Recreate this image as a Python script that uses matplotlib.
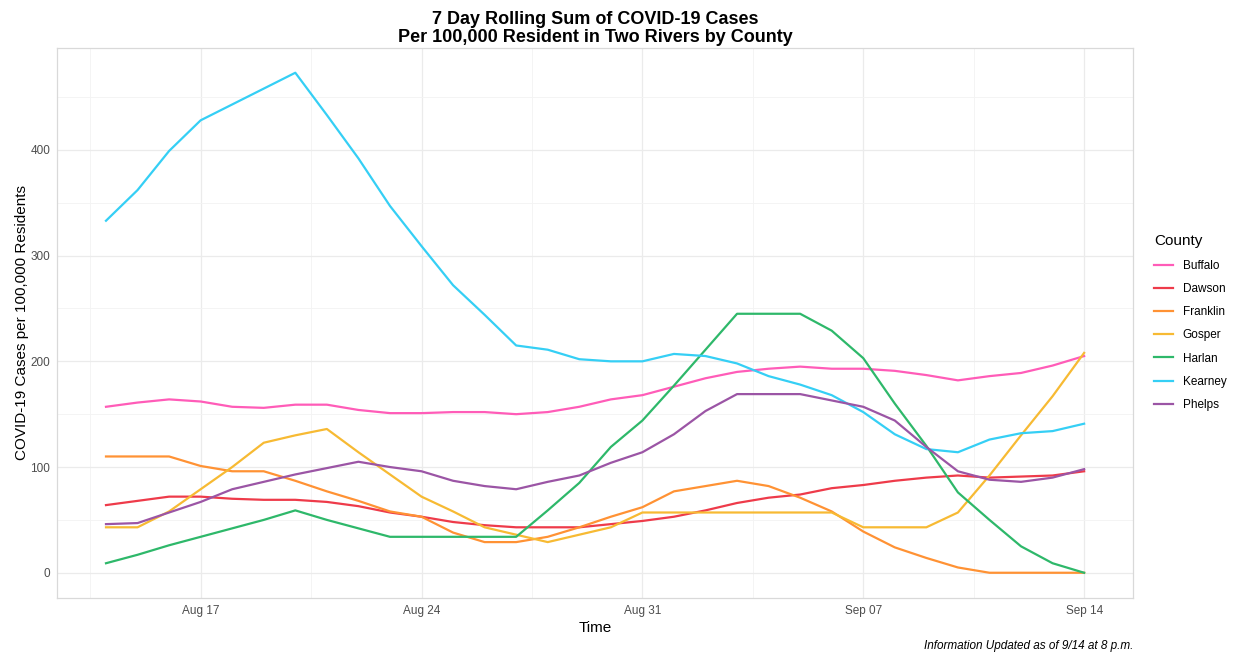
import numpy as np
import pandas as pd
import matplotlib.pyplot as plt
import matplotlib.dates as mdates

plt.rcParams['font.family'] = ['Liberation Sans', 'DejaVu Sans']

# daily dates, Aug 14 .. Sep 14
dates = pd.date_range('2020-08-14', '2020-09-14', freq='D')

counties = ['Buffalo', 'Dawson', 'Franklin', 'Gosper', 'Harlan', 'Kearney', 'Phelps']

buffalo = [157, 161, 164, 162, 157, 156, 159, 159, 154, 151, 151, 152, 152, 150, 152, 157,
           164, 168, 176, 184, 190, 193, 195, 193, 193, 191, 187, 182, 186, 189, 196, 205]
dawson = [64, 68, 72, 72, 70, 69, 69, 67, 63, 57, 53, 48, 45, 43, 43, 43,
          46, 49, 53, 59, 66, 71, 74, 80, 83, 87, 90, 92, 90, 91, 92, 96]
franklin = [110, 110, 110, 101, 96, 96, 87, 77, 68, 58, 53, 38, 29, 29, 34, 43,
            53, 62, 77, 82, 87, 82, 71, 58, 39, 24, 14, 5, 0, 0, 0, 0]
gosper = [43, 43, 58, 79, 100, 123, 130, 136, 114, 93, 72, 58, 43, 36, 29, 36,
          43, 57, 57, 57, 57, 57, 57, 57, 43, 43, 43, 57, 92, 130, 167, 208]
harlan = [9, 17, 26, 34, 42, 50, 59, 50, 42, 34, 34, 34, 34, 34, 59, 85,
          119, 144, 177, 211, 245, 245, 245, 229, 203, 160, 120, 76, 50, 25, 9, 0]
kearney = [333, 362, 399, 428, 443, 458, 473, 433, 392, 347, 309, 272, 244, 215, 211, 202,
           200, 200, 207, 205, 198, 186, 178, 168, 152, 131, 117, 114, 126, 132, 134, 141]
phelps = [46, 47, 57, 67, 79, 86, 93, 99, 105, 100, 96, 87, 82, 79, 86, 92,
          104, 114, 131, 153, 169, 169, 169, 163, 157, 144, 119, 96, 88, 86, 90, 98]

series = [buffalo, dawson, franklin, gosper, harlan, kearney, phelps]
colors = ['#FF5CB8', '#EE3B4A', '#FF9234', '#F7BA33', '#2EB86A', '#35CFF5', '#9B55A5']

fig = plt.figure(figsize=(12.41, 6.54), dpi=100)
ax = fig.add_axes([0.046, 0.086, 0.867, 0.841])

for name, vals, c in zip(counties, series, colors):
    ax.plot(dates, vals, color=c, lw=1.6, label=name)

major = pd.date_range('2020-08-17', '2020-09-14', freq='7D')
ax.set_xticks(major)
ax.xaxis.set_major_formatter(mdates.DateFormatter('%b %d'))
minor = pd.date_range('2020-08-13 12:00', '2020-09-17 12:00', freq='3D12h')
ax.set_xticks(minor, minor=True)
ax.set_yticks([0, 100, 200, 300, 400])
ax.set_yticks([50, 150, 250, 350, 450], minor=True)

# ggplot-like expansion (after ticks so they don't widen the view)
span = dates[-1] - dates[0]
ax.set_xlim(dates[0] - span * 0.05, dates[-1] + span * 0.05)
ymax = max(max(s) for s in series)
ax.set_ylim(-ymax * 0.05, ymax * 1.05)

ax.grid(which='major', color='#EBEBEB', lw=0.9)
ax.grid(which='minor', color='#F3F3F3', lw=0.6)
ax.set_axisbelow(True)
for s in ax.spines.values():
    s.set_color('#D9D9D9')
    s.set_linewidth(0.9)
ax.tick_params(which='both', length=0, colors='#4D4D4D', labelsize=8.5, pad=5)

ax.set_xlabel('Time', fontsize=11, labelpad=3)
ax.set_ylabel('COVID-19 Cases per 100,000 Residents', fontsize=11, labelpad=1)
ax.set_title('7 Day Rolling Sum of COVID-19 Cases\nPer 100,000 Resident in Two Rivers by County',
             fontsize=13, fontweight='bold', linespacing=1.1, pad=4)

leg = ax.legend(title='County', loc='center left', bbox_to_anchor=(1.01, 0.5),
                frameon=False, fontsize=8.5, title_fontsize=11, handlelength=1.6,
                labelspacing=0.95, alignment='left')

fig.text(0.913, 0.003, 'Information Updated as of 9/14 at 8 p.m.', ha='right', va='bottom',
         fontsize=8.5, style='italic')

fig.savefig('out.png', dpi=100)
